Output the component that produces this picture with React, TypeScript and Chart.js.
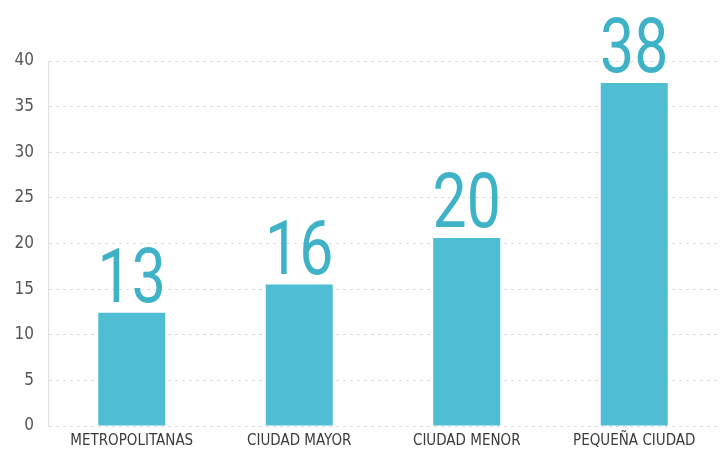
import React, { useEffect, useRef } from "react";
import { Chart, registerables } from "chart.js";

Chart.register(...registerables);

const categories = ["METROPOLITANAS", "CIUDAD MAYOR", "CIUDAD MENOR", "PEQUEÑA CIUDAD"];
const values = [12.4, 15.5, 20.6, 37.6];
const valueLabels = ["13", "16", "20", "38"];
const yTicks = [0, 5, 10, 15, 20, 25, 30, 35, 40];

const BAR = "#4fbdd4";
const TEXT_TEAL = "#3fb2c7";

const valueLabelPlugin = {
  id: "valueLabels",
  afterDatasetsDraw(chart: any) {
    const ctx = chart.ctx;
    const meta = chart.getDatasetMeta(0);
    meta.data.forEach((el: any, i: number) => {
      ctx.save();
      ctx.translate(el.x, el.y - 11);
      ctx.scale(0.8, 1);
      ctx.font = "400 76px Roboto, 'Liberation Sans', sans-serif";
      ctx.fillStyle = TEXT_TEAL;
      ctx.textAlign = "center";
      ctx.textBaseline = "alphabetic";
      ctx.fillText(valueLabels[i], 0, 0);
      ctx.restore();
    });
  },
};

export default function App() {
  const ref = useRef<HTMLCanvasElement>(null);
  useEffect(() => {
    document.body.style.margin = "0";
    const chart = new Chart(ref.current!, {
      type: "bar",
      data: {
        labels: categories,
        datasets: [
          {
            data: values,
            backgroundColor: BAR,
            barPercentage: 0.4,
            categoryPercentage: 1,
          },
        ],
      },
      options: {
        animation: false,
        responsive: false,
        maintainAspectRatio: false,
        layout: { padding: { top: 61, right: 8, left: 0, bottom: 0 } },
        plugins: { legend: { display: false }, tooltip: { enabled: false } },
        scales: {
          x: {
            grid: { display: false, drawTicks: false },
            border: { display: false },
            ticks: {
              color: "#3a3a3a",
              font: { family: "'Liberation Sans Narrow', 'DejaVu Sans Condensed', sans-serif", size: 15 },
              padding: 6,
              maxRotation: 0,
              autoSkip: false,
            },
            afterFit(scale: any) {
              scale.height = 29;
            },
          },
          y: {
            min: 0,
            max: 40,
            afterBuildTicks(scale: any) {
              scale.ticks = yTicks.map((v) => ({ value: v }));
            },
            grid: {
              color: "#dcdcdc",
              drawTicks: false,
            },
            border: { display: true, dash: [3, 4], color: "#e0e0e0" },
            ticks: {
              color: "#555",
              font: { family: "'Liberation Sans Narrow', 'DejaVu Sans Condensed', sans-serif", size: 17 },
              padding: 14,
            },
            afterFit(scale: any) {
              scale.width = 48;
            },
          },
        },
      } as any,
      plugins: [valueLabelPlugin],
    });
    return () => chart.destroy();
  }, []);
  return (
    <div style={{ position: "absolute", left: 0, top: 0, width: 726, height: 455, background: "#fff" }}>
      <canvas ref={ref} width={726} height={455} style={{ width: 726, height: 455 }} />
    </div>
  );
}
